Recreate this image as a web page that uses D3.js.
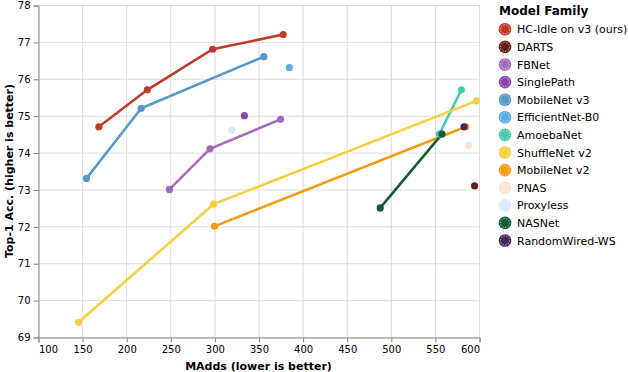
<!DOCTYPE html>
<html lang="en">
<head>
  <meta charset="UTF-8">
  <title>Model families</title>
  <style>
    body { margin: 0; background: #fff; }
    text { font-family: "DejaVu Sans", sans-serif; }
  </style>
</head>
<body>
  <div id="chart"></div>
  <script src="https://d3js.org/d3.v7.min.js"></script>
  <script>
    // families in legend order
    const families = ['HC-Idle on v3 (ours)', 'DARTS', 'FBNet', 'SinglePath', 'MobileNet v3', 'EfficientNet-B0',
      'AmoebaNet', 'ShuffleNet v2', 'MobileNet v2', 'PNAS', 'Proxyless', 'NASNet', 'RandomWired-WS']
    const colors = ['#c0392b', '#641e16', '#a569bd', '#8e44ad', '#5499c7', '#5dade2',
      '#48c9b0', '#f4d03f', '#f39c12', '#fae5d3', '#d6eaf8', '#145a32', '#4a235a']

    // [MAdds, top-1] per family
    const hcIdle = [[169, 74.7], [224, 75.7], [298, 76.8], [378, 77.2]]
    const darts = [[595, 73.1]]
    const fbnet = [[249, 73.0], [295, 74.1], [375, 74.9]]
    const singlePath = [[334, 75.0]]
    const mobilenetV3 = [[155, 73.3], [217, 75.2], [356, 76.6]]
    const efficientNet = [[385, 76.3]]
    const amoebaNet = [[555, 74.5], [580, 75.7]]
    const shuffleNet = [[146, 69.4], [299, 72.6], [597, 75.4]]
    const mobilenetV2 = [[300, 72.0], [585, 74.7]]
    const pnas = [[588, 74.2]]
    const proxyless = [[320, 74.6]]
    const nasnet = [[488, 72.5], [558, 74.5]]
    const randomWired = [[583, 74.7]]

    const xTicks = [100, 150, 200, 250, 300, 350, 400, 450, 500, 550, 600]
    const yTicks = [69, 70, 71, 72, 73, 74, 75, 76, 77, 78]

    const series = [hcIdle, darts, fbnet, singlePath, mobilenetV3, efficientNet,
      amoebaNet, shuffleNet, mobilenetV2, pnas, proxyless, nasnet, randomWired]

    const width = 628
    const height = 372
    const plot = { left: 38, right: 479, top: 5, bottom: 337 }

    const svg = d3.select('#chart').append('svg').attr('width', width).attr('height', height)

    const x = d3.scaleLinear().domain([100, 600]).range([plot.left, plot.right])
    const y = d3.scaleLinear().domain([69, 78]).range([plot.bottom, plot.top])
    const color = d3.scaleOrdinal().domain(families).range(colors)

    // grid
    svg.append('g').selectAll('line').data(xTicks).enter().append('line')
      .attr('x1', d => x(d) + 0.5).attr('x2', d => x(d) + 0.5)
      .attr('y1', plot.top).attr('y2', plot.bottom)
      .attr('stroke', '#ddd')
    svg.append('g').selectAll('line').data(yTicks).enter().append('line')
      .attr('x1', plot.left).attr('x2', plot.right)
      .attr('y1', d => y(d) + 0.5).attr('y2', d => y(d) + 0.5)
      .attr('stroke', '#ddd')

    // axes
    const gX = svg.append('g').attr('transform', `translate(0.5,${plot.bottom + 0.5})`)
      .call(d3.axisBottom(x).tickValues(xTicks).tickSizeOuter(0).tickSize(5).tickPadding(3))
    const gY = svg.append('g').attr('transform', `translate(${plot.left + 0.5},0.5)`)
      .call(d3.axisLeft(y).tickValues(yTicks).tickSizeOuter(0).tickSize(5).tickPadding(3))
    for (const g of [gX, gY]) {
      g.select('.domain').attr('stroke', '#888')
      g.selectAll('.tick line').attr('stroke', '#888')
      g.selectAll('.tick text').attr('fill', '#000').attr('font-size', '10px')
        .attr('font-family', '"DejaVu Sans", sans-serif')
    }
    // flush first/last x labels inside the axis
    gX.selectAll('.tick text').attr('text-anchor', (d, i, n) => i === 0 ? 'start' : i === n.length - 1 ? 'end' : 'middle')

    svg.append('text').attr('x', (plot.left + plot.right) / 2).attr('y', 370)
      .attr('text-anchor', 'middle').attr('font-size', '11px').attr('font-weight', 'bold')
      .text('MAdds (lower is better)')
    svg.append('text').attr('transform', `translate(13,${(plot.top + plot.bottom) / 2}) rotate(-90)`)
      .attr('text-anchor', 'middle').attr('font-size', '11px').attr('font-weight', 'bold')
      .text('Top-1 Acc. (higher is better)')

    // lines, then points
    const line = d3.line().x(d => x(d[0])).y(d => y(d[1]))
    svg.append('g').selectAll('path').data(series.map((s, i) => ({ s, i })).filter(d => d.s.length > 1))
      .enter().append('path')
      .attr('d', d => line(d.s))
      .attr('fill', 'none')
      .attr('stroke', d => colors[d.i])
      .attr('stroke-width', 2.5)

    const pts = []
    series.forEach((s, i) => s.forEach(p => pts.push({ fam: families[i], p })))
    svg.append('g').selectAll('circle').data(pts).enter().append('circle')
      .attr('cx', d => x(d.p[0])).attr('cy', d => y(d.p[1]))
      .attr('r', 3.6)
      .attr('fill', d => color(d.fam))

    // legend
    const legend = svg.append('g').attr('transform', 'translate(499,0)')
    legend.append('text').attr('x', 0).attr('y', 15).attr('font-size', '12px').attr('font-weight', 'bold')
      .text('Model Family')
    const item = legend.selectAll('g.item').data(families).enter().append('g')
      .attr('transform', (d, i) => `translate(6,${29.3 + i * 17.6})`)
    item.append('circle').attr('r', 6.3).attr('fill', d => color(d))
    item.append('circle').attr('r', 4.6).attr('fill', 'none')
      .attr('stroke', '#fff').attr('stroke-opacity', 0.8).attr('stroke-width', 0.8).attr('stroke-dasharray', '1.4,1.4')
    item.append('text').attr('x', 12).attr('y', 4).attr('font-size', '11px').attr('fill', '#000')
      .text(d => d)
  </script>
</body>
</html>
